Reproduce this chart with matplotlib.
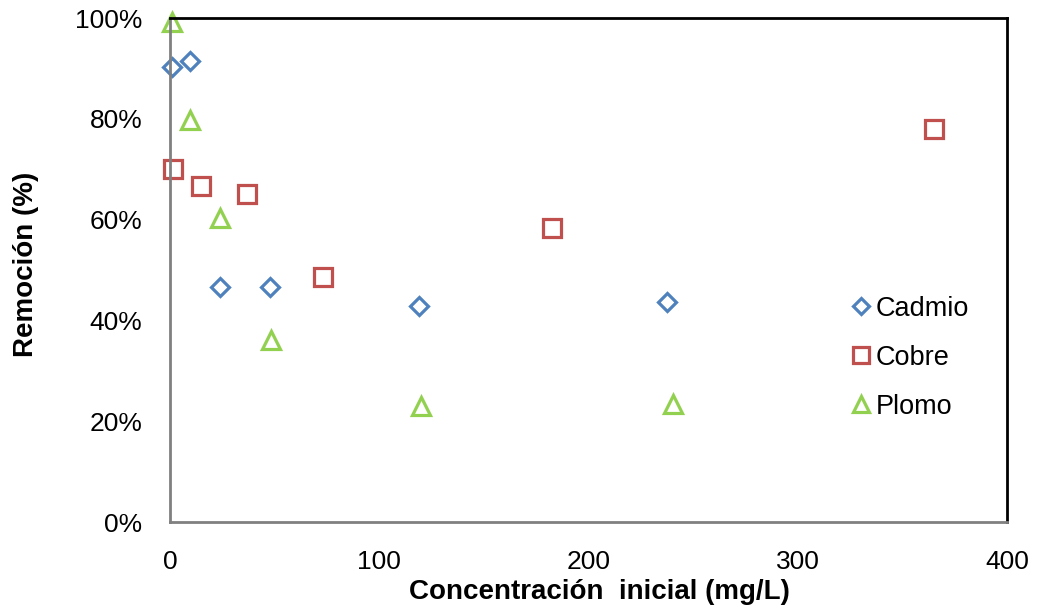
import matplotlib
matplotlib.use("Agg")
import matplotlib.pyplot as plt
from matplotlib.ticker import FuncFormatter

# data
cadmio_x = [0.8, 9.6, 23.9, 47.6, 118.9, 237.5]
cadmio_y = [90.2, 91.5, 46.6, 46.6, 42.8, 43.7]

cobre_x = [1.6, 14.8, 36.6, 73.1, 182.6, 365.3]
cobre_y = [70.0, 66.7, 65.1, 48.6, 58.3, 77.9]

plomo_x = [0.8, 9.6, 23.9, 48.1, 120.0, 240.4]
plomo_y = [99.2, 79.8, 60.4, 36.2, 23.1, 23.4]

x_ticks = [0, 100, 200, 300, 400]
y_ticks = [0, 20, 40, 60, 80, 100]

BLUE = "#4F81BD"
RED = "#C0504D"
GREEN = "#92D050"

plt.rcParams["font.family"] = ["Liberation Sans", "DejaVu Sans"]

fig = plt.figure(figsize=(10.37, 6.15), dpi=100)
ax = fig.add_axes([170 / 1037, 1 - 522 / 615, 837 / 1037, 504 / 615])

mk = dict(linestyle="none", markerfacecolor="white", markeredgewidth=2.3, clip_on=False)
ax.plot(cadmio_x, cadmio_y, marker="D", markersize=9.2, markeredgecolor=BLUE, label="Cadmio", **mk)
ax.plot(cobre_x, cobre_y, marker="s", markersize=12.5, markeredgecolor=RED, label="Cobre", **mk)
ax.plot(plomo_x, plomo_y, marker="^", markersize=13, markeredgecolor=GREEN, label="Plomo", **mk)

ax.set_xlim(0, 400)
ax.set_ylim(0, 100)
ax.set_xticks(x_ticks)
ax.set_yticks(y_ticks)
ax.yaxis.set_major_formatter(FuncFormatter(lambda v, _: f"{v:.0f}%"))
ax.tick_params(length=0, labelsize=19)
ax.tick_params(axis="y", pad=20)
ax.tick_params(axis="x", pad=20)

for side in ("left", "bottom"):
    ax.spines[side].set_color("#808080")
    ax.spines[side].set_linewidth(2)
for side in ("top", "right"):
    ax.spines[side].set_color("black")
    ax.spines[side].set_linewidth(2)

ax.set_xlabel("Concentración  inicial (mg/L)", fontsize=20, fontweight="bold")
ax.set_ylabel("Remoción (%)", fontsize=20, fontweight="bold")
ax.xaxis.set_label_coords(0.5125, -0.113)
ax.yaxis.set_label_coords(-0.157, 0.512)

ax.legend(
    loc="center left",
    bbox_to_anchor=(0.793, 0.326),
    frameon=False,
    fontsize=19.5,
    borderpad=0,
    handletextpad=0.05,
    handlelength=1.0,
    labelspacing=0.85,
    markerscale=0.9,
)

fig.savefig("out.png", dpi=100)
